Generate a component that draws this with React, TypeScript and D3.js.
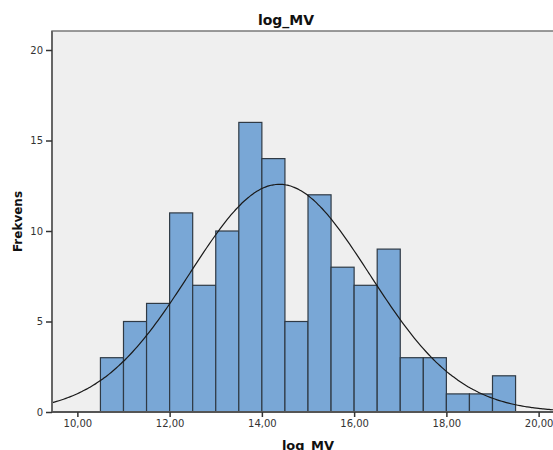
import { useEffect, useRef } from "react";
import * as d3 from "d3";

// histogram bins (lower edge, width 0.5) and counts
const binStarts = [10.5, 11, 11.5, 12, 12.5, 13, 13.5, 14, 14.5, 15, 15.5, 16, 16.5, 17, 17.5, 18, 18.5, 19];
const counts = [3, 5, 6, 11, 7, 10, 16, 14, 5, 12, 8, 7, 9, 3, 3, 1, 1, 2];
const binWidth = 0.5;
// fitted normal curve parameters
const mean = 14.38;
const sd = 1.95;
const xTicks = [10, 12, 14, 16, 18, 20];
const yTicks = [0, 5, 10, 15, 20];

export default function App() {
  const ref = useRef<SVGSVGElement>(null);

  useEffect(() => {
    const el = ref.current;
    if (!el) return;
    const W = 553;
    const H = 450;
    const M = { top: 31, right: -11, bottom: 38, left: 52 };
    const font = "DejaVu Sans, Verdana, sans-serif";

    const svg = d3.select(el);
    svg.selectAll("*").remove();

    const x = d3.scaleLinear().domain([9.45, 20.55]).range([M.left, W - M.right]);
    const y = d3.scaleLinear().domain([0, 21.05]).range([H - M.bottom, M.top]);

    // plot background
    svg.append("rect")
      .attr("x", M.left).attr("y", M.top)
      .attr("width", W - M.right - M.left).attr("height", H - M.bottom - M.top)
      .attr("fill", "#efefef")
      .attr("stroke", "#7a7a7a").attr("stroke-width", 1.5);

    // bars
    const data = binStarts.map((b, i) => ({ b, n: counts[i] }));
    svg.selectAll(".bar")
      .data(data).join("rect").attr("class", "bar")
      .attr("x", (d) => x(d.b))
      .attr("width", (d) => x(d.b + binWidth) - x(d.b))
      .attr("y", (d) => y(d.n))
      .attr("height", (d) => y(0) - y(d.n))
      .attr("fill", "#79a7d6")
      .attr("stroke", "#2f3a45")
      .attr("stroke-width", 1.2);

    // normal curve
    const n = d3.sum(counts);
    const dens = (v: number) =>
      (n * binWidth) / (sd * Math.sqrt(2 * Math.PI)) * Math.exp(-((v - mean) ** 2) / (2 * sd * sd));
    const xs = d3.range(9.45, 20.56, 0.05);
    svg.append("path")
      .attr("d", d3.line<number>().x((v) => x(v)).y((v) => y(dens(v))).curve(d3.curveBasis)(xs) ?? "")
      .attr("fill", "none")
      .attr("stroke", "#1a1a1a")
      .attr("stroke-width", 1.2);

    // y axis
    svg.append("g")
      .attr("transform", `translate(${M.left},0)`)
      .call(d3.axisLeft(y).tickValues(yTicks).tickSize(6).tickPadding(3).tickFormat((v) => String(v)))
      .call((g) => g.select(".domain").attr("stroke", "#666").attr("stroke-width", 2).attr("d", `M0,${M.top}V${y(0)}`))
      .call((g) => g.selectAll(".tick line").attr("stroke", "#333").attr("stroke-width", 1.5))
      .call((g) => g.selectAll(".tick text").attr("fill", "#333").style("font-family", font).style("font-size", "10px"));

    // x axis
    svg.append("g")
      .attr("transform", `translate(0,${y(0)})`)
      .call(d3.axisBottom(x).tickValues(xTicks).tickSize(5).tickPadding(3).tickFormat((v) => (+v).toFixed(2).replace(".", ",")))
      .call((g) => g.select(".domain").attr("stroke", "#555").attr("stroke-width", 2).attr("d", `M${M.left},0H${W - M.right}`))
      .call((g) => g.selectAll(".tick line").attr("stroke", "#333").attr("stroke-width", 1.5))
      .call((g) => g.selectAll(".tick text").attr("fill", "#333").style("font-family", font).style("font-size", "10px"));

    // title
    svg.append("text")
      .attr("x", 286).attr("y", 25)
      .attr("text-anchor", "middle")
      .style("font-family", font).style("font-weight", "bold").style("font-size", "14px")
      .attr("fill", "#111")
      .text("log_MV");

    // axis titles
    svg.append("text")
      .attr("transform", `translate(22,${(M.top + y(0)) / 2}) rotate(-90)`)
      .attr("text-anchor", "middle")
      .style("font-family", font).style("font-weight", "bold").style("font-size", "12px")
      .attr("fill", "#111")
      .text("Frekvens");

    svg.append("text")
      .attr("x", 308).attr("y", 450)
      .attr("text-anchor", "middle")
      .style("font-family", font).style("font-weight", "bold").style("font-size", "13px")
      .attr("fill", "#111")
      .text("log_MV");
  }, []);

  return (
    <div style={{ position: "absolute", left: 0, top: 0, width: 553, height: 450, background: "#fff" }}>
      <svg ref={ref} width={553} height={450} style={{ display: "block" }} />
    </div>
  );
}
